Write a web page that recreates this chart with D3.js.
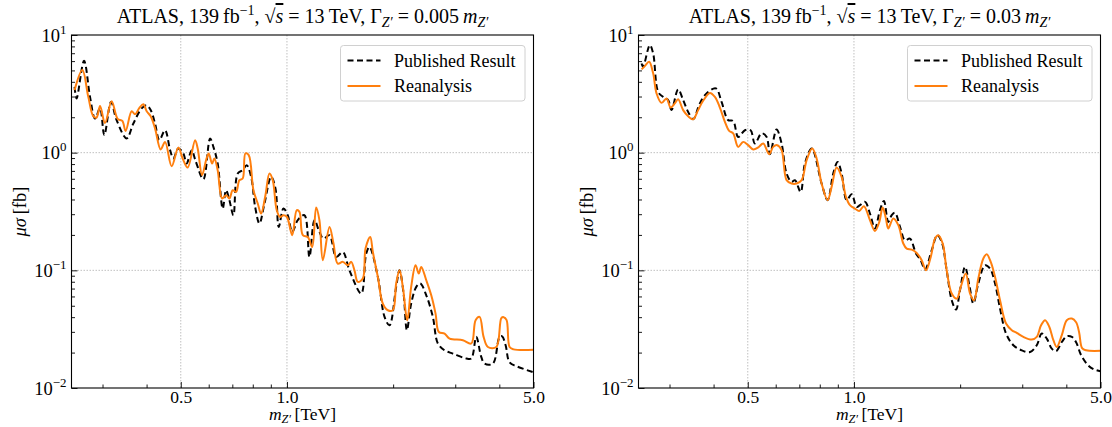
<!DOCTYPE html>
<html>
<head>
<meta charset="utf-8">
<script src="https://cdn.jsdelivr.net/npm/d3@7"></script>
<style>
  body { margin: 0; background: #fff; }
  svg text { font-family: "Liberation Serif", "DejaVu Serif", serif; fill: #000; }
</style>
</head>
<body>
<svg id="chart" width="1112" height="427"></svg>
<script>
// ---- data: [m_Z' (TeV), mu*sigma (fb)] ----
var published005 = [[0.250,3.63],[0.2533,2.89],[0.2659,6.03],[0.2765,2.98],[0.2857,1.95],[0.2952,2.38],[0.3035,1.41],[0.3172,2.70],[0.3289,1.89],[0.3512,1.32],[0.3669,1.77],[0.3873,2.38],[0.4002,2.53],[0.4108,2.30],[0.4227,1.77],[0.4348,1.28],[0.4513,1.55],[0.4664,1.05],[0.4764,0.893],[0.4922,1.086],[0.5085,0.984],[0.5195,0.809],[0.537,1.05],[0.550,0.863],[0.5795,0.595],[0.6054,1.32],[0.6186,1.12],[0.6363,0.809],[0.6574,0.335],[0.6721,0.480],[0.6868,0.395],[0.7050,0.294],[0.7251,0.665],[0.7491,0.710],[0.7690,0.783],[0.7915,0.623],[0.8125,0.346],[0.8355,0.250],[0.8634,0.370],[0.9019,0.623],[0.9277,0.496],[0.9478,0.234],[0.9774,0.335],[1.005,0.294],[1.035,0.212],[1.073,0.267],[1.121,0.294],[1.158,0.130],[1.197,0.267],[1.236,0.212],[1.269,0.186],[1.320,0.199],[1.379,0.130],[1.440,0.143],[1.504,0.100],[1.624,0.0635],[1.678,0.139],[1.714,0.158],[1.810,0.0879],[1.891,0.0402],[1.953,0.0341],[2.040,0.0723],[2.085,0.100],[2.141,0.0635],[2.188,0.0310],[2.250,0.0522],[2.326,0.0723],[2.387,0.0773],[2.483,0.0614],[2.592,0.0402],[2.678,0.0239],[2.798,0.0209],[2.954,0.0196],[3.224,0.0178],[3.331,0.0178],[3.441,0.0272],[3.555,0.0184],[3.634,0.0161],[3.835,0.0161],[4.007,0.0272],[4.074,0.0275],[4.168,0.0231],[4.278,0.0165],[4.478,0.0153],[5.0,0.0136]];

var reanalysis005 = [[0.250,3.40],[0.263,5.03],[0.2734,2.98],[0.2825,2.04],[0.2886,1.99],[0.2952,2.49],[0.3049,1.79],[0.3184,2.74],[0.3311,1.94],[0.3414,1.86],[0.3489,1.53],[0.3628,2.25],[0.3710,2.12],[0.3816,2.40],[0.3916,2.58],[0.4002,2.25],[0.4108,2.04],[0.4227,1.61],[0.4385,1.065],[0.4513,1.235],[0.4711,0.768],[0.4922,1.107],[0.5062,0.893],[0.5231,0.748],[0.549,1.277],[0.5584,1.086],[0.5745,0.644],[0.5898,0.863],[0.600,0.984],[0.6134,0.809],[0.6227,0.893],[0.6363,0.710],[0.6548,0.408],[0.6721,0.435],[0.6868,0.408],[0.7017,0.480],[0.7175,0.464],[0.7331,0.584],[0.7491,0.603],[0.7626,0.984],[0.7791,0.952],[0.8035,0.480],[0.8264,0.370],[0.8449,0.304],[0.8690,0.435],[0.8920,0.665],[0.9114,0.584],[0.9356,0.324],[0.9565,0.284],[0.9774,0.294],[1.0,0.284],[1.035,0.199],[1.066,0.324],[1.085,0.314],[1.109,0.199],[1.146,0.192],[1.179,0.158],[1.210,0.342],[1.236,0.267],[1.264,0.122],[1.320,0.234],[1.355,0.169],[1.393,0.114],[1.440,0.118],[1.488,0.1105],[1.521,0.118],[1.554,0.100],[1.588,0.0797],[1.641,0.0852],[1.670,0.153],[1.722,0.192],[1.752,0.143],[1.810,0.0879],[1.870,0.0522],[1.932,0.0458],[1.996,0.0458],[2.040,0.0773],[2.085,0.100],[2.131,0.0723],[2.193,0.0377],[2.250,0.0723],[2.315,0.1105],[2.365,0.0939],[2.403,0.107],[2.483,0.0824],[2.565,0.0614],[2.638,0.0429],[2.695,0.0299],[2.798,0.0290],[2.891,0.0263],[3.153,0.0255],[3.331,0.0239],[3.426,0.0377],[3.517,0.0402],[3.610,0.0272],[3.713,0.0223],[3.922,0.0223],[4.053,0.0392],[4.114,0.040],[4.195,0.0377],[4.278,0.0223],[4.391,0.0213],[5.0,0.0211]];

var published03 = [[0.25,5.73],[0.2525,5.37],[0.2638,8.21],[0.2696,6.98],[0.2785,3.29],[0.2877,2.98],[0.2973,2.80],[0.3040,2.30],[0.3173,3.45],[0.3279,2.80],[0.3388,2.22],[0.3500,1.92],[0.3656,2.62],[0.3820,3.19],[0.4060,3.52],[0.4214,2.70],[0.4399,1.89],[0.4545,1.86],[0.4696,1.36],[0.4907,1.55],[0.5093,1.55],[0.5237,1.197],[0.5473,1.46],[0.5655,1.36],[0.5777,0.971],[0.6036,1.575],[0.6235,1.197],[0.6442,0.665],[0.6656,0.565],[0.6803,0.584],[0.7061,0.464],[0.7261,0.809],[0.7593,1.086],[0.8096,0.547],[0.8420,0.395],[0.8735,0.665],[0.8990,0.835],[0.9228,0.665],[0.9534,0.395],[0.9851,0.444],[1.018,0.346],[1.040,0.358],[1.075,0.382],[1.110,0.304],[1.147,0.227],[1.185,0.324],[1.216,0.389],[1.251,0.258],[1.279,0.294],[1.307,0.308],[1.351,0.234],[1.395,0.180],[1.441,0.186],[1.499,0.139],[1.546,0.122],[1.590,0.1016],[1.661,0.148],[1.723,0.199],[1.774,0.174],[1.832,0.100],[1.893,0.0557],[1.947,0.0464],[1.998,0.0677],[2.065,0.107],[2.124,0.0747],[2.180,0.0522],[2.252,0.0773],[2.353,0.1105],[2.431,0.1036],[2.512,0.0773],[2.595,0.0473],[2.699,0.0290],[2.831,0.0231],[2.991,0.0209],[3.157,0.0202],[3.298,0.0231],[3.408,0.0290],[3.521,0.0263],[3.638,0.0216],[3.741,0.0206],[3.884,0.0246],[4.012,0.0275],[4.146,0.0272],[4.264,0.0245],[4.406,0.0190],[4.611,0.0156],[4.796,0.0144],[5.0,0.0139]];

var reanalysis03 = [[0.25,5.10],[0.2553,5.44],[0.2626,5.92],[0.2696,4.72],[0.2756,3.19],[0.2847,2.65],[0.2942,2.89],[0.3020,2.42],[0.3105,2.62],[0.3173,2.84],[0.3279,2.30],[0.3388,2.04],[0.3500,1.92],[0.3616,2.30],[0.3736,2.76],[0.3903,3.22],[0.4034,2.98],[0.4168,2.42],[0.4306,1.83],[0.4428,1.53],[0.4545,1.46],[0.4696,1.12],[0.4852,1.235],[0.5013,1.158],[0.5181,1.065],[0.5353,1.107],[0.5531,1.197],[0.5749,0.971],[0.5903,1.12],[0.6059,1.158],[0.6235,1.05],[0.6442,0.584],[0.6656,0.547],[0.6878,0.547],[0.7107,0.584],[0.7342,0.863],[0.7615,1.086],[0.7837,0.893],[0.8096,0.547],[0.8420,0.395],[0.8643,0.512],[0.8931,0.748],[0.9228,0.623],[0.9491,0.421],[0.9743,0.358],[1.0065,0.335],[1.035,0.320],[1.067,0.351],[1.110,0.267],[1.147,0.216],[1.180,0.258],[1.206,0.342],[1.232,0.276],[1.251,0.227],[1.293,0.276],[1.336,0.242],[1.380,0.169],[1.411,0.153],[1.458,0.150],[1.506,0.1406],[1.556,0.122],[1.601,0.100],[1.651,0.130],[1.697,0.186],[1.734,0.199],[1.785,0.169],[1.832,0.100],[1.893,0.0635],[1.956,0.0575],[2.008,0.0723],[2.075,0.0939],[2.134,0.0635],[2.190,0.0557],[2.252,0.0852],[2.327,0.126],[2.379,0.137],[2.442,0.118],[2.512,0.0879],[2.595,0.0557],[2.699,0.0353],[2.802,0.0310],[2.894,0.0294],[3.022,0.0272],[3.192,0.0258],[3.298,0.0272],[3.392,0.0341],[3.482,0.0377],[3.581,0.0330],[3.676,0.0255],[3.758,0.0223],[3.884,0.0281],[4.012,0.0377],[4.146,0.0389],[4.264,0.0362],[4.348,0.0298],[4.434,0.0218],[4.551,0.0209],[5.0,0.0207]];

var xMajorTicks = [0.5, 1.0, 5.0];
var xMinorTicks = [0.3, 0.4, 0.6, 0.7, 0.8, 0.9, 2, 3, 4];
var yMajorTicks = [0.01, 0.1, 1, 10];
var yTickExponents = ["\u22122", "\u22121", "0", "1"];
var xGrid = [0.5, 1.0];
var yGrid = [0.1, 1];
var legendLabels = ["Published Result", "Reanalysis"];
var widthLabels = ["0.005", "0.03"];

var svg = d3.select("#chart");
var top_ = 35, bottom = 388;
var panels = [
    { x0: 71.5, x1: 533.5, pub: published005, rea: reanalysis005, width: widthLabels[0] },
    { x0: 638.5, x1: 1100.5, pub: published03, rea: reanalysis03, width: widthLabels[1] }
];

// write a run of text pieces (italic / sub / sup) into a <text>
function rich(sel, parts, size) {
    var cur = 0;
    parts.forEach(function(p) {
        var ts = sel.append("tspan").text(p.t);
        var target = 0;
        if (p.sup) { target = -size * 0.42; ts.attr("font-size", size * 0.7); }
        if (p.sub) { target = size * 0.18; ts.attr("font-size", size * 0.7); }
        if (target !== cur) ts.attr("dy", target - cur);
        cur = target;
        if (p.i) ts.attr("font-style", "italic");
        if (p.over) ts.style("text-decoration", "overline");
    });
}

panels.forEach(function(p) {
    var x = d3.scaleLog().domain([0.245, 5]).range([p.x0, p.x1]);
    var y = d3.scaleLog().domain([0.01, 10]).range([bottom, top_]);
    var g = svg.append("g");

    // grid
    g.selectAll(".gx").data(xGrid).enter().append("line")
        .attr("x1", d => x(d)).attr("x2", d => x(d))
        .attr("y1", top_).attr("y2", bottom)
        .attr("stroke", "#b0b0b0").attr("stroke-width", 0.8)
        .attr("stroke-dasharray", "1.5,1.5");
    g.selectAll(".gy").data(yGrid).enter().append("line")
        .attr("x1", p.x0).attr("x2", p.x1)
        .attr("y1", d => y(d)).attr("y2", d => y(d))
        .attr("stroke", "#b0b0b0").attr("stroke-width", 0.8)
        .attr("stroke-dasharray", "1.5,1.5");

    // curves
    var line = d3.line()
        .x(d => x(d[0]))
        .y(d => y(d[1]))
        .curve(d3.curveCatmullRom.alpha(0.5));

    g.append("path").datum(p.pub)
        .attr("d", line)
        .attr("fill", "none")
        .attr("stroke", "#000")
        .attr("stroke-width", 2)
        .attr("stroke-dasharray", "6,3.5");
    g.append("path").datum(p.rea)
        .attr("d", line)
        .attr("fill", "none")
        .attr("stroke", "#ff7f0e")
        .attr("stroke-width", 2);

    // axes, ticks pointing inward
    var xAxis = g.append("g").attr("transform", "translate(0," + bottom + ")")
        .call(d3.axisBottom(x).tickValues(xMajorTicks).tickSize(-6).tickPadding(3)
            .tickFormat(d3.format(".1f")));
    xAxis.attr("font-family", null).attr("font-size", null);
    xAxis.select(".domain").remove();
    xAxis.selectAll("text").attr("font-size", 17.5);
    var xMinor = g.append("g").attr("transform", "translate(0," + bottom + ")")
        .call(d3.axisBottom(x).tickValues(xMinorTicks).tickSize(-3.5).tickFormat(""));
    xMinor.select(".domain").remove();

    var yAxis = g.append("g").attr("transform", "translate(" + p.x0 + ",0)")
        .call(d3.axisLeft(y).tickValues(yMajorTicks).tickSize(-6).tickFormat(""));
    yAxis.attr("font-family", null).attr("font-size", null);
    yAxis.select(".domain").remove();
    yAxis.selectAll(".tick").each(function(d, i) {
        var t = d3.select(this).append("text")
            .attr("x", -5).attr("y", 6)
            .attr("text-anchor", "end")
            .attr("font-size", 18.5);
        rich(t, [{ t: "10" }, { t: yTickExponents[i], sup: true }], 18.5);
    });
    var yMinorVals = [];
    [0.01, 0.1, 1].forEach(function(b) {
        for (var k = 2; k <= 9; k++) yMinorVals.push(b * k);
    });
    var yMinor = g.append("g").attr("transform", "translate(" + p.x0 + ",0)")
        .call(d3.axisLeft(y).tickValues(yMinorVals).tickSize(-3.5).tickFormat(""));
    yMinor.select(".domain").remove();

    g.selectAll(".tick line").attr("stroke", "#000").attr("stroke-width", 0.9);

    // frame
    g.append("rect")
        .attr("x", p.x0).attr("y", top_)
        .attr("width", p.x1 - p.x0).attr("height", bottom - top_)
        .attr("fill", "none").attr("stroke", "#000").attr("stroke-width", 1.1);

    // title
    var cx = (p.x0 + p.x1) / 2;
    var title = g.append("text")
        .attr("x", cx).attr("y", 23)
        .attr("text-anchor", "middle")
        .attr("font-size", 20);
    rich(title, [
        { t: "ATLAS, 139\u2009fb" }, { t: "\u22121", sup: true },
        { t: ", \u221A" }, { t: "s", i: true, over: true },
        { t: " = 13\u2009TeV, \u0393" }, { t: "Z\u2032", i: true, sub: true },
        { t: " = " + p.width + "\u2009" }, { t: "m", i: true }, { t: "Z\u2032", i: true, sub: true }
    ], 20);

    // axis labels
    var xl = g.append("text")
        .attr("x", cx).attr("y", 419.5)
        .attr("text-anchor", "middle")
        .attr("font-size", 17.5);
    rich(xl, [{ t: "m", i: true }, { t: "Z\u2032", i: true, sub: true }, { t: "\u2009[TeV]" }], 17.5);

    var yl = g.append("text")
        .attr("transform", "translate(" + (p.x0 - 46) + "," + ((top_ + bottom) / 2) + ") rotate(-90)")
        .attr("text-anchor", "middle")
        .attr("font-size", 18.5);
    rich(yl, [{ t: "\u03BC\u03C3", i: true }, { t: "\u2009[fb]" }], 18.5);

    // legend
    var lw = 184.5, lh = 55.5;
    var lx = p.x1 - 8.5 - lw, ly = 45.5;
    var leg = g.append("g").attr("transform", "translate(" + lx + "," + ly + ")");
    leg.append("rect")
        .attr("width", lw).attr("height", lh).attr("rx", 3)
        .attr("fill", "#fff").attr("fill-opacity", 0.8)
        .attr("stroke", "#d0d0d0").attr("stroke-width", 1);
    var styles = [
        { stroke: "#000", dash: "6,3.5" },
        { stroke: "#ff7f0e", dash: null }
    ];
    legendLabels.forEach(function(label, i) {
        var ry = 15 + i * 25.5;
        leg.append("line")
            .attr("x1", 7).attr("x2", 40)
            .attr("y1", ry).attr("y2", ry)
            .attr("stroke", styles[i].stroke)
            .attr("stroke-width", 2)
            .attr("stroke-dasharray", styles[i].dash);
        leg.append("text")
            .attr("x", 53.5).attr("y", ry + 6)
            .attr("font-size", 18)
            .text(label);
    });
});
</script>
</body>
</html>
